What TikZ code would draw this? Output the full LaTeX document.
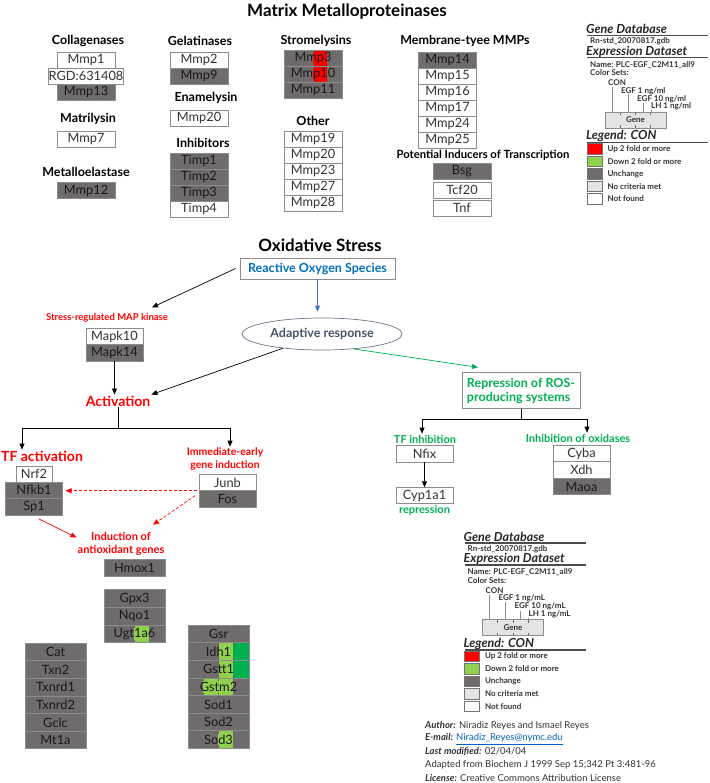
\documentclass[tikz,border=0pt]{standalone}
\usepackage{fontspec}
\setmainfont{Lato}
\usepackage{tikz}
\usetikzlibrary{arrows.meta, positioning, shapes.geometric, calc}

\definecolor{unchg}{RGB}{112,108,108}
\definecolor{boxline}{RGB}{140,140,140}
\definecolor{upred}{RGB}{255,0,0}
\definecolor{dnlight}{RGB}{146,208,80}
\definecolor{dndark}{RGB}{0,176,80}
\definecolor{nocrit}{RGB}{228,228,228}
\definecolor{rosblue}{RGB}{0,112,192}
\definecolor{arrblue}{RGB}{68,114,196}
\definecolor{slate}{RGB}{68,84,106}
\definecolor{repgreen}{RGB}{0,176,80}
\definecolor{linkblue}{RGB}{5,99,193}

\newcommand{\genefont}{\fontsize{12.8}{15}\selectfont}
\newcommand{\legfont}{\bfseries\fontsize{8}{9.5}\selectfont}

% short ticks marking the four colour-set columns of a gene box
\newcommand{\geneticks}{%
  \foreach \q in {0.25,0.5,0.75}{%
    \draw[black!60, line width=0.6pt] ($(path picture bounding box.north west)!\q!(path picture bounding box.north east)$) -- ++(0pt,-3pt);
    \draw[black!60, line width=0.6pt] ($(path picture bounding box.south west)!\q!(path picture bounding box.south east)$) -- ++(0pt,3pt);
  }}
\newcommand{\colband}[3]{\fill[#1] ([xshift=#2]path picture bounding box.north west) rectangle ([xshift=#3]path picture bounding box.south west);}

% legend block, #1 = name prefix, #2 = unit
\newcommand{\legendblock}[2]{%
  \node[leghead] (#1db) at (586,29) {Gene Database};
  \draw[legrule] (587,35.5) -- (708,35.5);
  \node[legtext] (#1gdb) at (590,41.5) {Rn-std\_20070817.gdb};
  \node[leghead] (#1ds) at (586,51.5) {Expression Dataset};
  \draw[legrule] (587,57.5) -- (708,57.5);
  \node[legtext] (#1name) at (590,65) {Name: PLC-EGF\_C2M11\_all9};
  \node[legtext] (#1sets) at (590,73) {Color Sets:};
  \node[legtext, anchor=center] (#1con) at (617,83) {CON};
  \node[legtext] (#1egfa) at (621,91) {EGF 1 ng/#2};
  \node[legtext] (#1egfb) at (637,99) {EGF 10 ng/#2};
  \node[legtext] (#1lh) at (651,106.5) {LH 1 ng/#2};
  \node[gene, fill=nocrit, minimum width=61pt, font=\legfont, path picture={\geneticks}] (#1gene) at (635.5,120) {Gene};
  \foreach \dx/\h in {7/25, 23/18, 38/9, 46/2}
    \draw[black!45, line width=0.7pt] ([xshift=\dx pt]#1gene.north west) -- ++(0pt,\h pt);
  \node[leghead] (#1leg) at (586,136) {Legend: CON};
  \draw[legrule] (587,142.5) -- (708,142.5);
  \foreach \kc/\kl [count=\n] in {upred/Up 2 fold or more, dnlight/Down 2 fold or more, unchg/Unchange, nocrit/No criteria met, white/Not found}{
    \node[legkey, fill=\kc] (#1key\n) at (594.5,136.5+12.5*\n) {};
    \node[legtext, right=5pt of #1key\n] (#1txt\n) {\kl};
  }%
}

\begin{document}
\begin{tikzpicture}[
  x=1pt, y=-1pt,
  gene/.style={rectangle, draw=boxline, line width=0.7pt, fill=white, minimum width=58pt, minimum height=16pt, inner sep=0pt, outer sep=0pt, text=black!80, font=\genefont},
  unch/.style={gene, fill=unchg, text=black!90, path picture={\geneticks}},
  hit/.style={unch, path picture={#1\geneticks}},
  ao/.style={minimum width=61pt, minimum height=17.6pt},
  mid/.style={minimum width=57pt, minimum height=16.5pt},
  grouphead/.style={inner sep=1pt, font=\bfseries\fontsize{12.5}{14}\selectfont},
  bigtitle/.style={inner sep=1pt, font=\bfseries\fontsize{17}{20}\selectfont},
  redlbl/.style={inner sep=1pt, text=upred, align=center, font=\bfseries\fontsize{10.5}{12.5}\selectfont},
  redbig/.style={inner sep=1pt, text=upred, font=\bfseries\fontsize{14}{17}\selectfont},
  grnlbl/.style={inner sep=1pt, text=repgreen, font=\bfseries\fontsize{11}{13}\selectfont},
  leghead/.style={anchor=west, inner sep=0pt, text=black!85, font=\bfseries\itshape\fontsize{12.5}{14}\selectfont},
  legtext/.style={anchor=west, inner sep=0pt, text=black!80, font=\legfont},
  legrule/.style={black!70, line width=1.1pt},
  legkey/.style={rectangle, draw=black!55, line width=0.8pt, minimum width=15pt, minimum height=10.5pt, inner sep=0pt},
  credit/.style={anchor=west, inner sep=0pt, text=black!80, font=\fontsize{9.5}{11}\selectfont},
  arr/.style={-{Triangle[length=6pt,width=5pt]}, line width=0.7pt},
  dasharr/.style={arr, upred, dash pattern=on 3pt off 2pt},
  redarr/.style={arr, upred}
]
\useasboundingbox (0,0) rectangle (709,783);

% Matrix metalloproteinases
\node[bigtitle] (mmptitle) at (347,12) {Matrix Metalloproteinases};

\node[grouphead] (hcoll) at (88,41) {Collagenases};
\node[gene] (mmp1) at (86,60) {Mmp1};
\node[gene, minimum width=74pt, below=0pt of mmp1] (rgd) {RGD:631408};
\node[unch, below=0pt of rgd] (mmp13) {Mmp13};
\node[grouphead] (hmatri) at (88,119) {Matrilysin};
\node[gene] (mmp7) at (86,139) {Mmp7};
\node[grouphead] (hmetal) at (86,172) {Metalloelastase};
\node[unch] (mmp12) at (86,190.5) {Mmp12};

\node[grouphead] (hgela) at (200,41) {Gelatinases};
\node[gene] (mmp2) at (199,60) {Mmp2};
\node[unch, below=0pt of mmp2] (mmp9) {Mmp9};
\node[grouphead] (henam) at (206,98) {Enamelysin};
\node[gene] (mmp20a) at (199,118) {Mmp20};
\node[grouphead] (hinhib) at (203,143) {Inhibitors};
\node[unch] (timp1) at (199,161) {Timp1};
\node[unch, below=0pt of timp1] (timp2) {Timp2};
\node[unch, below=0pt of timp2] (timp3) {Timp3};
\node[gene, below=0pt of timp3] (timp4) {Timp4};

\node[grouphead] (hstrom) at (316,41) {Stromelysins};
\node[hit={\colband{upred}{29pt}{43pt}}] (mmp3) at (313,58) {Mmp3};
\node[hit={\colband{upred}{29pt}{43pt}}, below=0pt of mmp3] (mmp10) {Mmp10};
\node[unch, below=0pt of mmp10] (mmp11) {Mmp11};
\node[grouphead] (hother) at (313,121) {Other};
\node[gene] (mmp19) at (313,139) {Mmp19};
\node[gene, below=0pt of mmp19] (mmp20b) {Mmp20};
\node[gene, below=0pt of mmp20b] (mmp23) {Mmp23};
\node[gene, below=0pt of mmp23] (mmp27) {Mmp27};
\node[gene, below=0pt of mmp27] (mmp28) {Mmp28};

\node[grouphead] (hmemb) at (465,41) {Membrane-tyee MMPs};
\node[unch] (mmp14) at (447.5,60) {Mmp14};
\node[gene, below=0pt of mmp14] (mmp15) {Mmp15};
\node[gene, below=0pt of mmp15] (mmp16) {Mmp16};
\node[gene, below=0pt of mmp16] (mmp17) {Mmp17};
\node[gene, below=0pt of mmp17] (mmp24) {Mmp24};
\node[gene, below=0pt of mmp24] (mmp25) {Mmp25};
\node[grouphead, font=\bfseries\fontsize{11.3}{13}\selectfont] (hinduc) at (483,155) {Potential Inducers of Transcription};
\node[unch] (bsg) at (462,171) {Bsg};
\node[gene, below=3pt of bsg] (tcf20) {Tcf20};
\node[gene, below=2pt of tcf20] (tnf) {Tnf};

\legendblock{la}{ml}

% Oxidative stress
\node[bigtitle] (oxtitle) at (320,245) {Oxidative Stress};
\node[draw=boxline, line width=0.8pt, minimum width=155pt, minimum height=21pt, inner sep=0pt, text=rosblue, font=\bfseries\fontsize{12.5}{14}\selectfont] (ros) at (317.5,268.5) {Reactive Oxygen Species};
\node[ellipse, draw=slate!80, line width=0.7pt, minimum width=160pt, minimum height=32pt, inner sep=0pt, text=slate, font=\bfseries\fontsize{12.5}{14}\selectfont] (adapt) at (322,334) {Adaptive response};
\draw[arr, arrblue] (ros.south) -- ([yshift=6pt]ros.south |- adapt.north);

\node[redlbl, font=\bfseries\fontsize{9.5}{11}\selectfont] (maplbl) at (107,318) {Stress-regulated MAP kinase};
\draw[arr] ([xshift=-4pt]ros.west) -- ([xshift=45pt,yshift=5pt]maplbl.north);
\node[gene, mid] (mapk10) at (114.5,336.5) {Mapk10};
\node[unch, mid, below=0pt of mapk10] (mapk14) {Mapk14};
\node[redbig] (act) at (118,401) {Activation};
\draw[arr] (mapk14.south) -- (mapk14.south |- act.north);
\draw[arr] (adapt.200) -- (act.north east);

\node[redbig] (tfact) at (42,456) {TF activation};
\node[redlbl] (ieg) at (225,459) {Immediate-early\\gene induction};
\coordinate (actsplit) at (act.south |- 0,428.5);
\draw (act.south) -- (actsplit);
\draw[arr] (actsplit) -| ([xshift=-20pt]tfact.north);
\draw[arr] (actsplit) -| ([xshift=5pt]ieg.north);

\node[gene, minimum width=36pt] (nrf2) at (34,474) {Nrf2};
\node[unch, mid, below=0pt of nrf2] (nfkb1) {Nfkb1};
\node[unch, mid, below=0pt of nfkb1] (sp1) {Sp1};
\node[gene, mid] (junb) at (227.5,482.5) {Junb};
\node[unch, mid, below=0pt of junb] (fos) {Fos};

\node[redlbl, font=\bfseries\fontsize{11}{13}\selectfont] (indlbl) at (121,543.5) {Induction of\\antioxidant genes};
\draw[dasharr] ([xshift=-2pt]fos.north west) -- ([xshift=3pt]fos.north west -| nfkb1.east);
\draw[dasharr] ([xshift=-4pt,yshift=-5pt]fos.north west) -- ([xshift=32pt,yshift=6pt]indlbl.north);
\draw[redarr] ([xshift=5pt,yshift=-4pt]sp1.south) -- ([yshift=6pt]indlbl.west);

\node[unch, ao] (hmox1) at (134.5,568) {Hmox1};
\node[unch, ao] (gpx3) at (134.5,598.5) {Gpx3};
\node[unch, ao, below=0pt of gpx3] (nqo1) {Nqo1};
\node[hit={\colband{dnlight}{30pt}{45pt}}, ao, below=0pt of nqo1] (ugt1a6) {Ugt1a6};

\node[unch, ao] (cat) at (55.5,652) {Cat};
\node[unch, ao, below=0pt of cat] (txn2) {Txn2};
\node[unch, ao, below=0pt of txn2] (txnrd1) {Txnrd1};
\node[unch, ao, below=0pt of txnrd1] (txnrd2) {Txnrd2};
\node[unch, ao, below=0pt of txnrd2] (gclc) {Gclc};
\node[unch, ao, below=0pt of gclc] (mt1a) {Mt1a};

\node[unch, ao] (gsr) at (218.5,634) {Gsr};
\node[hit={\colband{dnlight}{31pt}{45pt}\colband{dndark}{45pt}{61pt}}, ao, below=0pt of gsr] (idh1) {Idh1};
\node[hit={\colband{dnlight}{31pt}{45pt}\colband{dndark}{45pt}{61pt}}, ao, below=0pt of idh1] (gstt1) {Gstt1};
\node[hit={\colband{dnlight}{15pt}{45pt}}, ao, below=0pt of gstt1] (gstm2) {Gstm2};
\node[unch, ao, below=0pt of gstm2] (sod1) {Sod1};
\node[unch, ao, below=0pt of sod1] (sod2) {Sod2};
\node[hit={\colband{dnlight}{30pt}{45pt}}, ao, below=0pt of sod2] (sod3) {Sod3};

% repression branch
\node[draw=boxline, line width=0.8pt, minimum width=118pt, minimum height=33pt, inner sep=5pt, align=left, text=repgreen, font=\bfseries\fontsize{12.5}{14}\selectfont] (rep) at (521,390.5) {Repression of ROS-\\producing systems};
\draw[arr, repgreen] (adapt.-25) -- ([xshift=-43pt,yshift=5pt]rep.north);
\node[grnlbl] (tfinh) at (425,439) {TF inhibition};
\node[grnlbl] (inox) at (578,438) {Inhibition of oxidases};
\coordinate (repsplit) at (rep.south |- 0,419);
\draw (rep.south) -- (repsplit);
\draw[arr] (repsplit) -| ([xshift=-3pt]tfinh.north);
\draw[arr] (repsplit) -| ([xshift=9pt]inox.north);

\node[gene, mid] (nfix) at (424.5,454) {Nfix};
\node[gene, mid] (cyp1a1) at (424.5,495.5) {Cyp1a1};
\draw[arr] (nfix) -- (cyp1a1);
\node[grnlbl, inner sep=0pt, below=1pt of cyp1a1] (repr) {repression};
\node[gene, mid] (cyba) at (581.5,453.5) {Cyba};
\node[gene, mid, below=0pt of cyba] (xdh) {Xdh};
\node[unch, mid, below=0pt of xdh] (maoa) {Maoa};

\begin{scope}[shift={(-122.5,507.5)}]
\legendblock{lb}{mL}
\end{scope}

% credits
\node[credit] (author) at (425,726) {\textbf{\textit{Author:}} Niradiz Reyes and Ismael Reyes};
\node[credit] (email) at (425,739) {\textbf{\textit{E-mail:}} \textcolor{linkblue}{\underline{Niradiz\_Reyes@nymc.edu}}};
\node[credit] (modif) at (425,752) {\textbf{\textit{Last modified:}} 02/04/04};
\node[credit] (adapt2) at (425,765) {Adapted from Biochem J 1999 Sep 15;342 Pt 3:481-96};
\node[credit] (licen) at (425,778) {\textbf{\textit{License:}} Creative Commons Attribution License};
\end{tikzpicture}
\end{document}
